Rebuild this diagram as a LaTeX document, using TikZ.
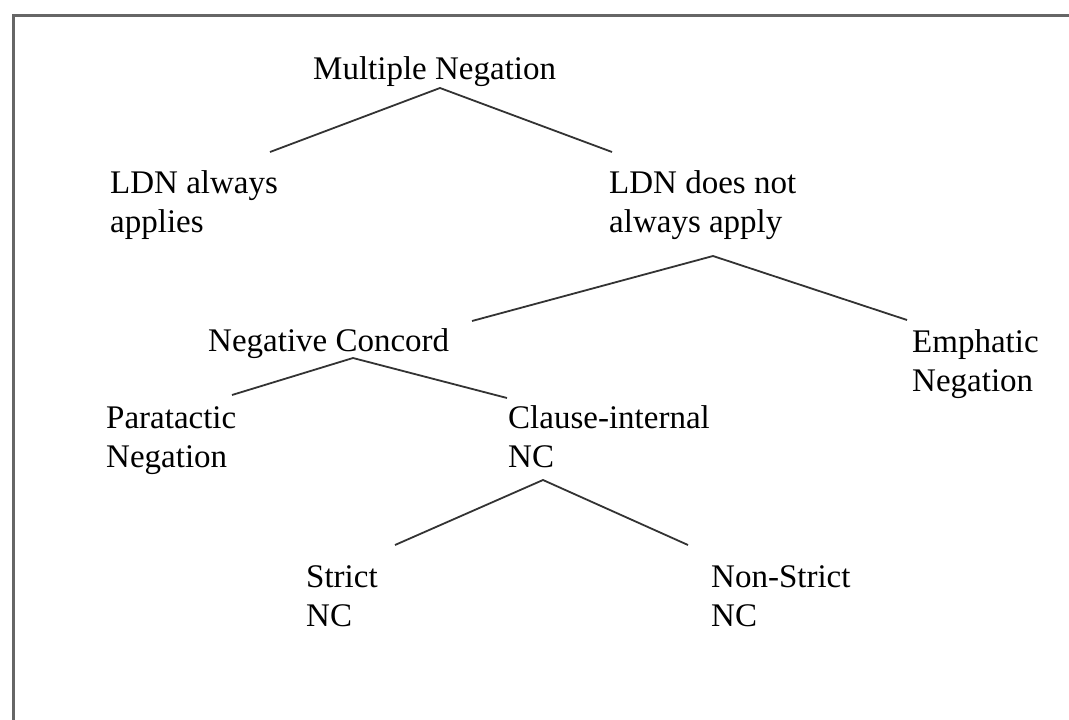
\documentclass[tikz,border=0pt]{standalone}
\usepackage{fontspec}
\setmainfont{Liberation Serif}
\usetikzlibrary{calc}
\tikzset{
  lbl/.style={anchor=base west, inner sep=0pt, font=\fontsize{33}{39}\selectfont, text=black},
  edge/.style={draw=black!80, line width=1.8pt},
  frame/.style={draw=black!60, line width=3pt}
}
\newcommand{\twol}[2]{\begin{tabular}[t]{@{}l@{}}#1\\#2\end{tabular}}
\begin{document}
\begin{tikzpicture}[x=1pt,y=-1pt]
\useasboundingbox (0,0) rectangle (1069,720);
\clip (0,0) rectangle (1069,720);
\draw[frame] (13,740) -- (13,15) -- (1090,15);

\node[lbl] (mn) at (313,79) {Multiple Negation};
\node[lbl] (ldn1) at (110,193) {\twol{LDN always}{applies}};
\node[lbl] (ldn2) at (609,193) {\twol{LDN does not}{always apply}};
\node[lbl] (nc) at (208,351) {Negative Concord};
\node[lbl] (emph) at (912,352) {\twol{Emphatic}{Negation}};
\node[lbl] (para) at (106,428) {\twol{Paratactic}{Negation}};
\node[lbl] (cint) at (508,428) {\twol{Clause-internal}{NC}};
\node[lbl] (strict) at (306,587) {\twol{Strict}{NC}};
\node[lbl] (nstrict) at (711,587) {\twol{Non-Strict}{NC}};

\draw[edge] ($(ldn1.base west)+(160,-41)$) -- ($(mn.base west)+(127,9)$) -- ($(ldn2.base west)+(3,-41)$);
\draw[edge] ($(nc.base west)+(264,-30)$) -- ($(ldn2.base west)+(104,63)$) -- ($(emph.base west)+(-5,-32)$);
\draw[edge] ($(para.base west)+(126,-33)$) -- ($(nc.base west)+(145,7)$) -- ($(cint.base west)+(-1,-30)$);
\draw[edge] ($(strict.base west)+(89,-42)$) -- ($(cint.base west)+(35,52)$) -- ($(nstrict.base west)+(-23,-42)$);
\end{tikzpicture}
\end{document}
